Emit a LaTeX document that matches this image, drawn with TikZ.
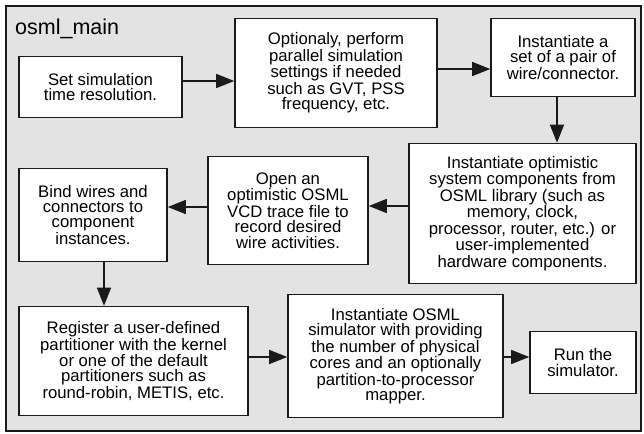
\documentclass[tikz,border=0pt]{standalone}
\usepackage{fontspec}
\setmainfont{Liberation Sans}
\usetikzlibrary{arrows.meta}
\definecolor{panelgray}{HTML}{E3E3E3}
\definecolor{inkline}{HTML}{1A1A1A}
\begin{document}
\begin{tikzpicture}[x=1pt,y=-1pt,
  stepbox/.style={draw=inkline, line width=1.6pt, fill=white, align=center,
    inner sep=0pt, font=\fontsize{16.7}{15.3}\selectfont},
  flow/.style={draw=inkline, line width=1.5pt, -{Triangle[length=18pt,width=14pt]}}]
\useasboundingbox (0,0) rectangle (644,433);
\fill[white] (0,0) rectangle (644,433);
% outer panel
\draw[draw=inkline, line width=1.6pt, fill=panelgray] (6,6) rectangle (641,431);
\node[anchor=base west, inner sep=0pt, font=\fontsize{21.5}{25}\selectfont] (title) at (15,35) {osml\_main};

% steps
\node[stepbox, minimum width=163pt, minimum height=61pt] (b1) at (100.5,87)
  {Set simulation\\time resolution.};
\node[stepbox, minimum width=202pt, minimum height=109pt] (b2) at (336,73)
  {Optionaly, perform\\parallel simulation\\settings if needed\\such as GVT, PSS\\frequency, etc.};
\node[stepbox, minimum width=144pt, minimum height=78pt] (b3) at (563,57.5)
  {Instantiate a\\set of a pair of\\wire/connector.};
\node[stepbox, minimum width=227pt, minimum height=140pt] (b4) at (522.5,213.5)
  {Instantiate optimistic\\system components from\\OSML library (such as\\memory, clock,\\processor, router, etc.) or\\user-implemented\\hardware components.};
\node[stepbox, minimum width=160pt, minimum height=108pt] (b5) at (288,210.5)
  {Open an\\optimistic OSML\\VCD trace file to\\record desired\\wire activities.};
\node[stepbox, minimum width=148pt, minimum height=93pt] (b6) at (93,215)
  {Bind wires and\\connectors to\\component\\instances.};
\node[stepbox, minimum width=229pt, minimum height=109pt] (b7) at (133.5,361)
  {Register a user-defined\\partitioner with the kernel\\or one of the default\\partitioners such as\\round-robin, METIS, etc.};
\node[stepbox, minimum width=215pt, minimum height=123pt] (b8) at (395.5,356)
  {Instantiate OSML\\simulator with providing\\the number of physical\\cores and an optionally\\partition-to-processor\\mapper.};
\node[stepbox, minimum width=106pt, minimum height=62pt] (b9) at (583,362.5)
  {Run the\\simulator.};

% connector levels
\coordinate (l12) at (0,81);
\coordinate (l23) at (0,69);
\coordinate (l34) at (557,0);
\coordinate (l45) at (0,206);
\coordinate (l56) at (0,207);
\coordinate (l67) at (104,0);
\coordinate (l78) at (0,357);
\coordinate (l89) at (0,357);

\draw[flow] (b1.east |- l12) -- (b2.west |- l12);
\draw[flow] (b2.east |- l23) -- (b3.west |- l23);
\draw[flow] (b3.south -| l34) -- (b4.north -| l34);
\draw[flow] (b4.west |- l45) -- (b5.east |- l45);
\draw[flow] (b5.west |- l56) -- (b6.east |- l56);
\draw[flow] (b6.south -| l67) -- (b7.north -| l67);
\draw[flow] (b7.east |- l78) -- (b8.west |- l78);
\draw[flow] (b8.east |- l89) -- (b9.west |- l89);
\end{tikzpicture}
\end{document}
